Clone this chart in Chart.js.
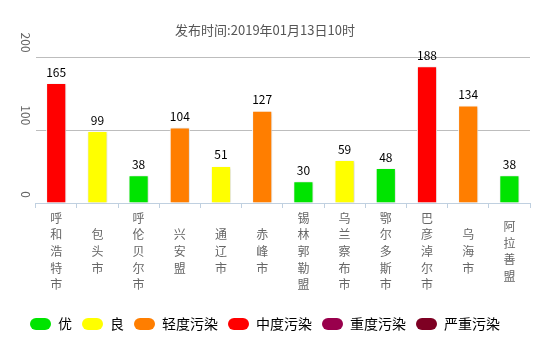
<!DOCTYPE html>
<html>
<head>
<meta charset="utf-8">
<script src="https://cdn.jsdelivr.net/npm/chart.js@4.4.1/dist/chart.umd.min.js"></script>
<style>
  html, body { margin: 0; padding: 0; background: #fff; }
  #wrap { width: 543px; height: 343px; }
</style>
</head>
<body>
<div id="wrap"><canvas id="chart"></canvas></div>
<script>
// AQI by city, Inner Mongolia — published 2019-01-13 10:00

const TITLE = '发布时间:2019年01月13日10时';

const cities = ['呼和浩特市', '包头市', '呼伦贝尔市', '兴安盟', '通辽市', '赤峰市',
  '锡林郭勒盟', '乌兰察布市', '鄂尔多斯市', '巴彦淖尔市', '乌海市', '阿拉善盟'];
const aqiValues = [165, 99, 38, 104, 51, 127, 30, 59, 48, 188, 134, 38];

// AQI levels: name, colour and upper bound of each band
const levelNames = ['优', '良', '轻度污染', '中度污染', '重度污染', '严重污染'];
const levelColors = ['#00e400', '#ffff00', '#ff7e00', '#ff0000', '#99004c', '#7e0023'];
const levelUpper = [50, 100, 150, 200, 300, Infinity];

const yTicks = [0, 100, 200];

const CJK = '"Noto Sans CJK SC", "Noto Sans", sans-serif';

function levelColor(v) {
  const i = levelUpper.findIndex(u => v <= u);
  return levelColors[i];
}

/** Soft drop shadow behind the bars. */
const barShadow = {
  id: 'barShadow',
  beforeDatasetsDraw(chart) {
    const c = chart.ctx;
    c.save();
    c.shadowColor = 'rgba(0, 0, 0, 0.2)';
    c.shadowBlur = 3;
    c.shadowOffsetX = 1;
    c.shadowOffsetY = 1;
  },
  afterDatasetsDraw(chart) {
    chart.ctx.restore();
  },
};

/** Value printed above every bar. */
const valueLabels = {
  id: 'valueLabels',
  afterDatasetsDraw(chart) {
    const { ctx } = chart;
    const meta = chart.getDatasetMeta(0);
    ctx.save();
    ctx.font = '12px ' + CJK;
    ctx.fillStyle = '#000';
    ctx.textAlign = 'center';
    ctx.textBaseline = 'middle';
    meta.data.forEach((bar, i) => ctx.fillText(String(aqiValues[i]), bar.x, bar.y - 11));
    ctx.restore();
  },
};

/** Y tick labels, turned 90 degrees like the original. */
const yRotatedLabels = {
  id: 'yRotatedLabels',
  afterDraw(chart) {
    const { ctx } = chart;
    const y = chart.scales.y;
    ctx.save();
    ctx.font = '12px ' + CJK;
    ctx.fillStyle = '#666';
    ctx.textAlign = 'right';
    ctx.textBaseline = 'middle';
    yTicks.forEach(t => {
      ctx.save();
      ctx.translate(25.7, y.getPixelForValue(t) - 5);
      ctx.rotate(Math.PI / 2);
      ctx.fillText(String(t), 0, 0);
      ctx.restore();
    });
    ctx.restore();
  },
};

new Chart(document.getElementById('chart'), {
  type: 'bar',
  data: {
    labels: cities,
    datasets: [{
      data: aqiValues,
      backgroundColor: aqiValues.map(levelColor),
      borderColor: '#ffffff',
      borderWidth: 1,
      barPercentage: 0.49,
      categoryPercentage: 1,
    }],
  },
  options: {
    responsive: true,
    maintainAspectRatio: false,
    animation: false,
    layout: { padding: { left: 0, right: 13, top: 0, bottom: 2 } },
    plugins: {
      title: {
        display: true,
        text: TITLE,
        color: '#555',
        font: { family: CJK, size: 13, weight: 'normal', lineHeight: 1.2 },
        padding: { top: 22, bottom: 20 },
      },
      legend: {
        position: 'bottom',
        onClick: null,
        labels: {
          boxWidth: 21,
          boxHeight: 12,
          padding: 10,
          color: '#333',
          font: { family: CJK, size: 14 },
          generateLabels: () => levelNames.map((name, i) => ({
            text: name,
            fillStyle: levelColors[i],
            strokeStyle: levelColors[i],
            lineWidth: 0,
            borderRadius: 6,
            hidden: false,
            index: i,
          })),
        },
      },
      tooltip: { enabled: false },
    },
    scales: {
      x: {
        grid: { drawOnChartArea: false, drawTicks: true, tickLength: 5, color: '#c0d0e0', offset: true },
        border: { color: '#c0d0e0' },
        ticks: {
          color: '#666',
          font: { family: CJK, size: 12, lineHeight: 1.39 },
          padding: 10,
          crossAlign: 'center',
          maxRotation: 0,
          autoSkip: false,
          callback: (v, i) => Array.from(cities[i]),
        },
        afterFit: s => { s.height = 104; },
      },
      y: {
        min: 0,
        max: 200,
        ticks: { stepSize: 100, display: false },
        grid: {
          drawTicks: false,
          color: c => (c.tick && c.tick.value === 0 ? 'rgba(0,0,0,0)' : '#bdbdbd'),
        },
        border: { display: false },
        afterFit: s => { s.width = 35.6; },
      },
    },
  },
  plugins: [barShadow, valueLabels, yRotatedLabels],
});
</script>
</body>
</html>
